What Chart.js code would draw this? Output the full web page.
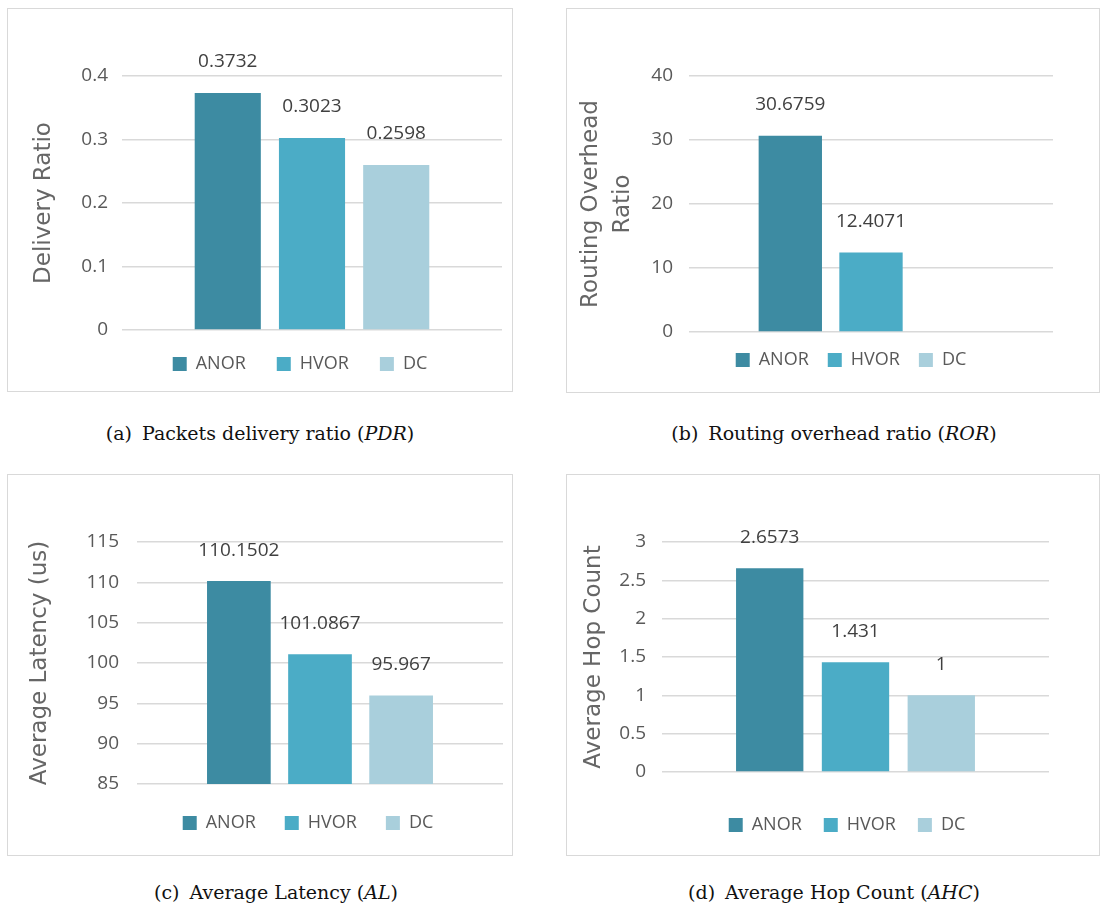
<!DOCTYPE html>
<html>
<head>
<meta charset="utf-8">
<title>ANOR / HVOR / DC comparison</title>
<script src="https://cdn.jsdelivr.net/npm/chart.js@4.4.1/dist/chart.umd.min.js"></script>
<style>
  body { margin: 0; background: #fff; width: 1104px; height: 913px; position: relative; overflow: hidden; }
  .panel { position: absolute; border: 1px solid #d9d9d9; box-sizing: border-box; background: #fff; }
  .panel canvas { position: absolute; left: 0; top: 0; }
  .caption { position: absolute; transform: translate(-50%, -50%); white-space: nowrap;
             font-family: 'DejaVu Serif', serif; font-size: 19px; color: #111; }
  .caption .tag { margin-right: 10px; }
</style>
</head>
<body>
<div class="panel" id="boxA"><canvas id="chartA"></canvas></div>
<div class="panel" id="boxB"><canvas id="chartB"></canvas></div>
<div class="panel" id="boxC"><canvas id="chartC"></canvas></div>
<div class="panel" id="boxD"><canvas id="chartD"></canvas></div>

<div class="caption" style="left:260px; top:433px"><span class="tag">(a)</span>Packets delivery ratio (<i>PDR</i>)</div>
<div class="caption" style="left:834px; top:433px"><span class="tag">(b)</span>Routing overhead ratio (<i>ROR</i>)</div>
<div class="caption" style="left:276px; top:892px"><span class="tag">(c)</span>Average Latency (<i>AL</i>)</div>
<div class="caption" style="left:834px; top:892px"><span class="tag">(d)</span>Average Hop Count (<i>AHC</i>)</div>

<script>
// Series
const methods = ['ANOR', 'HVOR', 'DC'];
const methodColors = ['#3d8ba2', '#4bacc6', '#a9cfdc'];

// Values per metric (DC has no ROR bar)
const pdrValues = [0.3732, 0.3023, 0.2598];
const rorValues = [30.6759, 12.4071, null];
const latencyValues = [110.1502, 101.0867, 95.967];
const hopValues = [2.6573, 1.431, 1];

// Y axis ticks
const pdrTicks = [0, 0.1, 0.2, 0.3, 0.4];
const rorTicks = [0, 10, 20, 30, 40];
const latencyTicks = [85, 90, 95, 100, 105, 110, 115];
const hopTicks = [0, 0.5, 1, 1.5, 2, 2.5, 3];

const TEXT_FONT = 'Open Sans';
const LEGEND_SIZE = 18;

// value printed above every bar
const valueLabels = {
  id: 'valueLabels',
  afterDatasetsDraw(chart) {
    const ctx = chart.ctx;
    ctx.save();
    ctx.font = `19px "${TEXT_FONT}"`;
    ctx.fillStyle = '#404040';
    ctx.textAlign = 'center';
    ctx.textBaseline = 'middle';
    chart.data.datasets.forEach((ds, i) => {
      const bar = chart.getDatasetMeta(i).data[0];
      const v = ds.data[0];
      if (v === null || v === undefined || !bar) return;
      ctx.fillText(String(v), bar.x, bar.y - 31);
    });
    ctx.restore();
  }
};

// put the legend row where the original has it
const legendPlace = {
  id: 'legendPlace',
  afterLayout(chart, args, opts) {
    const lg = chart.legend;
    if (!lg || opts.cx === undefined) return;
    const w = lg.right - lg.left;
    const h = lg.bottom - lg.top;
    lg.left = opts.cx - w / 2;
    lg.right = lg.left + w;
    lg.top = opts.cy - opts.gap - LEGEND_SIZE / 2;
    lg.bottom = lg.top + h;
  }
};

function makeChart(boxId, canvasId, values, ticks, cfg) {
  const [bl, bt, br, bb] = cfg.box;
  const boxEl = document.getElementById(boxId);
  boxEl.style.left = bl + 'px';
  boxEl.style.top = bt + 'px';
  boxEl.style.width = (br - bl) + 'px';
  boxEl.style.height = (bb - bt) + 'px';

  const ox = bl + 1, oy = bt + 1;
  const w = br - bl - 2, h = bb - bt - 2;
  const canvas = document.getElementById(canvasId);
  canvas.width = w;
  canvas.height = h;

  const [pl, pt, pr, pb] = cfg.plot;
  const legendHeight = LEGEND_SIZE + cfg.legendGap + 10;
  const titleLine = 23 * cfg.titleLineHeight;

  new Chart(canvas.getContext('2d'), {
    type: 'bar',
    data: {
      labels: [''],
      datasets: methods.map((m, i) => ({
        label: m,
        data: [values[i]],
        backgroundColor: methodColors[i],
        borderWidth: 0,
        categoryPercentage: 0.665,
        barPercentage: 0.785
      }))
    },
    options: {
      responsive: false,
      animation: false,
      layout: {
        padding: {
          left: 0,
          top: pt - oy,
          right: w - (pr - ox),
          bottom: h - (pb - oy) - legendHeight
        }
      },
      scales: {
        x: { display: false },
        y: {
          min: ticks[0],
          max: ticks[ticks.length - 1],
          afterBuildTicks: s => { s.ticks = ticks.map(v => ({ value: v })); },
          afterFit: s => { s.width = pl - ox; },
          grid: { color: '#d9d9d9', lineWidth: 1.5, drawTicks: false },
          border: { display: false },
          ticks: {
            padding: cfg.tickGap,
            color: '#595959',
            font: { family: TEXT_FONT, size: 19 },
            callback: v => String(v)
          },
          title: {
            display: true,
            text: cfg.title,
            color: '#666666',
            font: { family: 'DejaVu Sans', size: 23, lineHeight: cfg.titleLineHeight },
            padding: { top: cfg.titleX - ox - titleLine / 2, bottom: 0 }
          }
        }
      },
      plugins: {
        tooltip: { enabled: false },
        legend: {
          position: 'bottom',
          labels: {
            boxWidth: 14,
            boxHeight: 14,
            padding: cfg.legendGap,
            color: '#595959',
            font: { family: TEXT_FONT, size: LEGEND_SIZE }
          }
        },
        legendPlace: { cx: cfg.legend[0] - ox, cy: cfg.legend[1] - oy, gap: cfg.legendGap }
      }
    },
    plugins: [valueLabels, legendPlace]
  });
}

makeChart('boxA', 'chartA', pdrValues, pdrTicks, {
  box: [7, 8, 513, 392], plot: [122, 76, 502, 330],
  title: 'Delivery Ratio', titleX: 44, titleLineHeight: 1.2,
  tickGap: 14, legend: [300, 364], legendGap: 31
});

makeChart('boxB', 'chartB', rorValues, rorTicks, {
  box: [566, 8, 1100, 393], plot: [689, 76, 1053, 332],
  title: ['Routing Overhead', 'Ratio'], titleX: 591, titleLineHeight: 1.4,
  tickGap: 16, legend: [851, 360], legendGap: 19
});

makeChart('boxC', 'chartC', latencyValues, latencyTicks, {
  box: [7, 474, 513, 856], plot: [137, 542, 503, 784],
  title: 'Average Latency (us)', titleX: 40, titleLineHeight: 1.2,
  tickGap: 18, legend: [308, 823], legendGap: 29
});

makeChart('boxD', 'chartD', hopValues, hopTicks, {
  box: [566, 474, 1100, 856], plot: [662, 542, 1049, 772],
  title: 'Average Hop Count', titleX: 594, titleLineHeight: 1.2,
  tickGap: 16, legend: [847, 825], legendGap: 22
});
</script>
</body>
</html>
